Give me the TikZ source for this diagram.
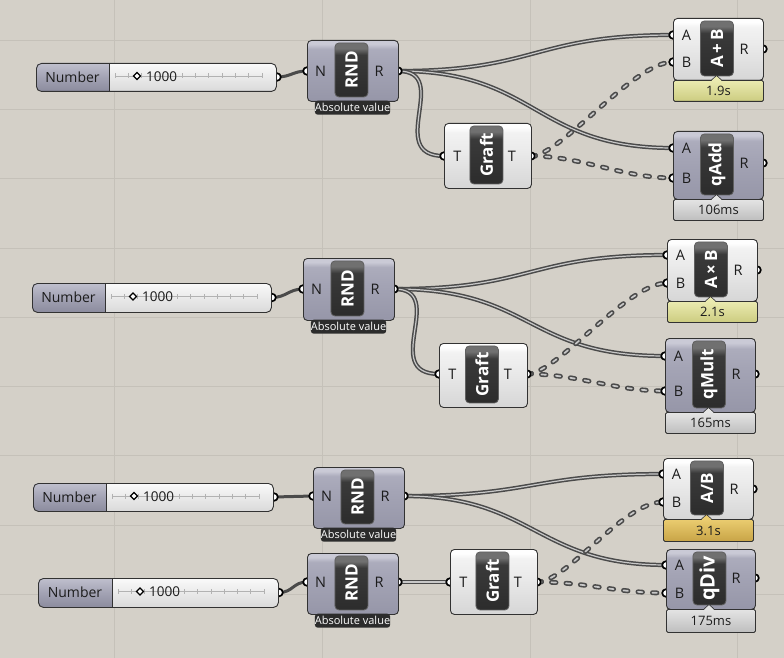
\documentclass[tikz,border=0pt]{standalone}
\usepackage{fontspec}
\setmainfont{Open Sans}
\usetikzlibrary{calc}

% canvas and wires
\definecolor{canvas}{RGB}{212,208,200}
\definecolor{gridline}{RGB}{197,193,185}
\definecolor{wiredark}{RGB}{74,74,74}
\definecolor{wirelight}{RGB}{200,200,200}
\definecolor{edge}{RGB}{50,50,50}
\definecolor{labelcol}{RGB}{28,28,28}
\definecolor{notefill}{RGB}{44,44,44}
\definecolor{trackcol}{RGB}{178,178,178}
% component bodies
\definecolor{purplebot}{RGB}{150,150,168}
\definecolor{purplemid}{RGB}{164,164,181}
\definecolor{purpletop}{RGB}{172,172,188}
\definecolor{purplehi}{RGB}{202,202,214}
\definecolor{whitebot}{RGB}{214,214,214}
\definecolor{whitemid}{RGB}{235,235,235}
\definecolor{whitetop}{RGB}{242,242,242}
\definecolor{whitehi}{RGB}{254,254,254}
\definecolor{corebot}{RGB}{44,44,44}
\definecolor{coremid}{RGB}{58,58,58}
\definecolor{coretop}{RGB}{112,112,112}
\definecolor{coreedge}{RGB}{96,96,96}
% sliders
\definecolor{slidedarktop}{RGB}{192,192,206}
\definecolor{slidedarkmid}{RGB}{163,163,180}
\definecolor{slidedarkbot}{RGB}{140,140,158}
\definecolor{slidelighttop}{RGB}{250,250,250}
\definecolor{slidelightbot}{RGB}{218,218,218}
% timing labels
\definecolor{greytop}{RGB}{228,228,228}
\definecolor{greybot}{RGB}{190,190,190}
\definecolor{yellowtop}{RGB}{234,234,176}
\definecolor{yellowbot}{RGB}{204,204,128}
\definecolor{goldtop}{RGB}{234,204,112}
\definecolor{goldbot}{RGB}{200,164,70}

\pgfdeclareverticalshading{purplebody}{100bp}{color(0bp)=(purplebot); color(25bp)=(purplebot); color(55bp)=(purplemid); color(68bp)=(purpletop); color(72bp)=(purplehi); color(75bp)=(purplehi); color(100bp)=(purplehi)}
\pgfdeclareverticalshading{whitebody}{100bp}{color(0bp)=(whitebot); color(25bp)=(whitebot); color(55bp)=(whitemid); color(68bp)=(whitetop); color(72bp)=(whitehi); color(75bp)=(whitehi); color(100bp)=(whitehi)}
\pgfdeclareverticalshading{coreshade}{100bp}{color(0bp)=(corebot); color(25bp)=(corebot); color(64bp)=(coremid); color(70bp)=(coretop); color(75bp)=(coretop); color(100bp)=(coretop)}

\pgfdeclarelayer{canvaslayer}
\pgfdeclarelayer{wirelayer}
\pgfdeclarelayer{portlayer}
\pgfsetlayers{canvaslayer,wirelayer,portlayer,main}

\tikzset{
  body/.style={draw=edge, line width=0.9pt, rounded corners=4pt, inner sep=0pt, anchor=north west, shade},
  purplecomp/.style={body, shading=purplebody},
  whitecomp/.style={body, shading=whitebody},
  core/.style={draw=coreedge, line width=0.8pt, rounded corners=4pt, shade, shading=coreshade, minimum width=33pt, inner sep=0pt},
  coretext/.style={rotate=90, text=white, inner sep=0pt, font=\bfseries\fontsize{17}{17}\selectfont},
  port/.style={draw=black, fill=white, line width=1.7pt},
  portlabel/.style={inner sep=0pt, text=labelcol, font=\fontsize{14.5}{14.5}\selectfont},
  note/.style={fill=notefill, rounded corners=3pt, text=white, inner sep=0pt, anchor=north, minimum width=75pt, minimum height=14pt, font=\fontsize{11}{11}\selectfont},
  timebox/.style={draw=edge, line width=0.9pt, rounded corners=1.5pt, inner sep=0pt, anchor=north west, text=labelcol, font=\fontsize{13}{13}\selectfont},
  greytime/.style={timebox, top color=greytop, bottom color=greybot},
  yellowtime/.style={timebox, top color=yellowtop, bottom color=yellowbot},
  goldtime/.style={timebox, top color=goldtop, bottom color=goldbot},
  sliderframe/.style={draw=edge, line width=0.9pt, rounded corners=5pt, inner sep=0pt, anchor=north west},
  sliderlabel/.style={inner sep=0pt, text=labelcol, font=\fontsize{14}{14}\selectfont},
  slidervalue/.style={inner sep=0pt, text=labelcol, font=\fontsize{13.5}{13.5}\selectfont},
  track/.style={draw=trackcol, line width=0.6pt},
  knob/.style={draw=black, fill=white, line width=1.3pt},
  wire/.style={draw=wiredark, line width=1.5pt, double=wirelight, double distance=1.2pt},
  dashwire/.style={draw=wiredark, line width=1.6pt, double=wirelight, double distance=1.7pt, dash pattern=on 4.5pt off 10pt, line cap=round},
  singlewire/.style={draw=wiredark, line width=3pt},
  gridrule/.style={draw=gridline, line width=0.8pt},
}

% a parameter grip: coordinate plus its ring, tucked under the body
\newcommand\ghport[3]{%
  \coordinate (#1) at (#2,#3);
  \begin{pgfonlayer}{portlayer}\draw[port] (#1) circle (3.8pt);\end{pgfonlayer}}
% input grip with its letter
\newcommand\ghin[4]{%
  \ghport{#1}{#2}{#3}%
  \node[portlabel] (#1-lab) at (#2+13.5,#3) {#4};}
% output grip with its letter
\newcommand\ghout[4]{%
  \ghport{#1}{#2}{#3}%
  \node[portlabel] (#1-lab) at (#2-19,#3) {#4};}
% component: name, left, top, right, bottom, body style, title
\newcommand\ghcomp[7]{%
  \node[#6, minimum width=#4pt-#2pt, minimum height=#5pt-#3pt] (#1) at (#2,#3) {};
  \node[core, minimum height=#5pt-#3pt-7pt] (#1-core) at ($(#1.center)+(-1.5,-1)$) {};
  \node[coretext] (#1-title) at (#1-core.center) {#7};}
% dark caption under a component
\newcommand\ghnote[3]{\node[note] (#1) at (#2,#3) {Absolute value};}
% profiler tag: name, left, top, right, bottom, style, text, pointer x, pointer colour
\newcommand\ghtime[9]{%
  \node[#6, minimum width=#4pt-#2pt, minimum height=#5pt-#3pt] (#1) at (#2,#3) {#7};
  \fill[#9] (#8-5,#3+0.8) -- (#8,#3-4.5) -- (#8+5,#3+0.8) -- cycle;
  \draw[edge, line width=0.6pt] (#8-5,#3) -- (#8,#3-4.5) -- (#8+5,#3);}
% number slider: name, left, top, right, bottom, divider, value
\newcommand\ghslider[7]{%
  \pgfmathsetmacro\slcy{(#3+#5)/2}%
  \pgfmathsetmacro\slta{#6+6}%
  \pgfmathsetmacro\sltb{#4-14}%
  \begin{scope}
    \clip[rounded corners=5pt] (#2,#3) rectangle (#4,#5);
    \shade[top color=slidelighttop, bottom color=slidelightbot] (#2,#3) rectangle (#4,#5);
    \shade[top color=slidedarktop, bottom color=slidedarkbot, middle color=slidedarkmid] (#2,#3) rectangle (#6,#5);
  \end{scope}
  \draw[edge, line width=0.9pt] (#6,#3) -- (#6,#5);
  \draw[track] (\slta,\slcy-1) -- (\sltb,\slcy-1);
  \foreach \k in {0,...,11} {\draw[track] ({\slta+\k*(\sltb-\slta)/11},\slcy-3.5) -- ++(0,5);}
  \node[sliderframe, minimum width=#4pt-#2pt, minimum height=#5pt-#3pt] (#1) at (#2,#3) {};
  \node[sliderlabel] (#1-name) at ({(#2+#6)/2},\slcy) {Number};
  \draw[knob] (#6+24.5,\slcy-1) -- ++(3.5,-3.5) -- ++(3.5,3.5) -- ++(-3.5,3.5) -- cycle;
  \node[slidervalue, anchor=west] (#1-value) at (#6+37,\slcy-0.5) {#7};
  \ghport{#1-out}{#4+1}{\slcy}}

\begin{document}
\begin{tikzpicture}[x=1pt,y=-1pt]
\useasboundingbox (0,0) rectangle (784,658);

\begin{pgfonlayer}{canvaslayer}
  \fill[canvas] (0,0) rectangle (784,658);
  \foreach \gx in {114,322,530,737} {\draw[gridrule] (\gx,0) -- (\gx,658);}
  \foreach \gy in {40,109.3,178.6,247.9,317.2,386.5,455.8,525.1,594.4} {\draw[gridrule] (0,\gy) -- (784,\gy);}
\end{pgfonlayer}

% ---------- addition ----------
\ghslider{num1}{36}{63}{276}{91}{109}{1000}
\ghcomp{rnd1}{307}{40}{398}{101}{purplecomp}{RND}
\ghnote{rnd1-note}{352.5}{100.5}
\ghin{rnd1-N}{307}{71}{N}
\ghout{rnd1-R}{398}{71}{R}

\ghcomp{add}{673}{18}{763}{80}{whitecomp}{A\,+\,B}
\ghin{add-A}{673}{35}{A}
\ghin{add-B}{673}{62}{B}
\ghout{add-R}{763}{49}{R}
\ghtime{add-time}{673}{80}{763}{101}{yellowtime}{1.9s}{716.5}{yellowtop}

\ghcomp{graft1}{444}{123}{531}{188}{whitecomp}{Graft}
\ghin{graft1-T}{444}{156}{T}
\ghout{graft1-out}{531}{156}{T}

\ghcomp{qadd}{673}{131}{763}{199}{purplecomp}{qAdd}
\ghin{qadd-A}{673}{148}{A}
\ghin{qadd-B}{673}{178}{B}
\ghout{qadd-R}{763}{163}{R}
\ghtime{qadd-time}{673}{199}{763}{220}{greytime}{106ms}{716.5}{greytop}

% ---------- multiplication ----------
\ghslider{num2}{32}{283}{271}{312}{105}{1000}
\ghcomp{rnd2}{303}{258}{394}{320}{purplecomp}{RND}
\ghnote{rnd2-note}{348.5}{319.5}
\ghin{rnd2-N}{303}{289}{N}
\ghout{rnd2-R}{394}{289}{R}

\ghcomp{mul}{667}{239}{757}{301}{whitecomp}{A\,×\,B}
\ghin{mul-A}{667}{255}{A}
\ghin{mul-B}{667}{283}{B}
\ghout{mul-R}{757}{270}{R}
\ghtime{mul-time}{667}{301}{757}{322}{yellowtime}{2.1s}{710.5}{yellowtop}

\ghcomp{graft2}{439}{343}{527}{407}{whitecomp}{Graft}
\ghin{graft2-T}{439}{374}{T}
\ghout{graft2-out}{527}{374}{T}

\ghcomp{qmult}{665}{338}{755}{412}{purplecomp}{qMult}
\ghin{qmult-A}{665}{356}{A}
\ghin{qmult-B}{665}{391}{B}
\ghout{qmult-R}{755}{374}{R}
\ghtime{qmult-time}{665}{412}{755}{433}{greytime}{165ms}{708.5}{greytop}

% ---------- division ----------
\ghslider{num3}{33}{483}{273}{511}{106}{1000}
\ghcomp{rnd3}{313}{467}{404}{528}{purplecomp}{RND}
\ghnote{rnd3-note}{358.5}{527.5}
\ghin{rnd3-N}{313}{496}{N}
\ghout{rnd3-R}{404}{496}{R}

\ghslider{num4}{38}{578}{278}{607}{112}{1000}
\ghcomp{rnd4}{307}{553}{398}{614}{purplecomp}{RND}
\ghnote{rnd4-note}{352.5}{613.5}
\ghin{rnd4-N}{307}{582}{N}
\ghout{rnd4-R}{398}{582}{R}

\ghcomp{div}{663}{458}{753}{519}{whitecomp}{A/B}
\ghin{div-A}{663}{474}{A}
\ghin{div-B}{663}{502}{B}
\ghout{div-R}{753}{489}{R}
\ghtime{div-time}{663}{519}{753}{541}{goldtime}{3.1s}{706.5}{goldtop}

\ghcomp{graft3}{450}{549}{537}{614}{whitecomp}{Graft}
\ghin{graft3-T}{450}{582}{T}
\ghout{graft3-out}{537}{582}{T}

\ghcomp{qdiv}{666}{549}{755}{609}{purplecomp}{\fontsize{20}{20}\selectfont qDiv}
\ghin{qdiv-A}{666}{565}{A}
\ghin{qdiv-B}{666}{593}{B}
\ghout{qdiv-R}{755}{578}{R}
\ghtime{qdiv-time}{666}{609}{755}{632}{greytime}{175ms}{709}{greytop}

% ---------- wires ----------
\begin{pgfonlayer}{wirelayer}
  \draw[singlewire] (num1-out) .. controls +(14,0) and +(-14,0) .. (rnd1-N);
  \draw[wire] (rnd1-R) .. controls +(140,0) and +(-140,0) .. (add-A);
  \draw[wire] (rnd1-R) .. controls +(140,0) and +(-140,0) .. (qadd-A);
  \draw[wire] (rnd1-R) .. controls +(55,0) and +(-60,0) .. (graft1-T);
  \draw[dashwire] (graft1-out) .. controls +(30,0) and +(-40,0) .. (add-B);
  \draw[dashwire] (graft1-out) .. controls +(50,0) and +(-50,0) .. (qadd-B);

  \draw[singlewire] (num2-out) .. controls +(14,0) and +(-14,0) .. (rnd2-N);
  \draw[wire] (rnd2-R) .. controls +(140,0) and +(-140,0) .. (mul-A);
  \draw[wire] (rnd2-R) .. controls +(140,0) and +(-140,0) .. (qmult-A);
  \draw[wire] (rnd2-R) .. controls +(55,0) and +(-60,0) .. (graft2-T);
  \draw[dashwire] (graft2-out) .. controls +(30,0) and +(-40,0) .. (mul-B);
  \draw[dashwire] (graft2-out) .. controls +(50,0) and +(-50,0) .. (qmult-B);

  \draw[singlewire] (num3-out) -- (rnd3-N);
  \draw[singlewire] (num4-out) .. controls +(14,0) and +(-14,0) .. (rnd4-N);
  \draw[wire] (rnd3-R) .. controls +(130,0) and +(-130,0) .. (div-A);
  \draw[wire] (rnd3-R) .. controls +(130,0) and +(-130,0) .. (qdiv-A);
  \draw[wire] (rnd4-R) .. controls +(15,0) and +(-15,0) .. (graft3-T);
  \draw[dashwire] (graft3-out) .. controls +(30,0) and +(-40,0) .. (div-B);
  \draw[dashwire] (graft3-out) .. controls +(50,0) and +(-50,0) .. (qdiv-B);
\end{pgfonlayer}
\end{tikzpicture}
\end{document}
